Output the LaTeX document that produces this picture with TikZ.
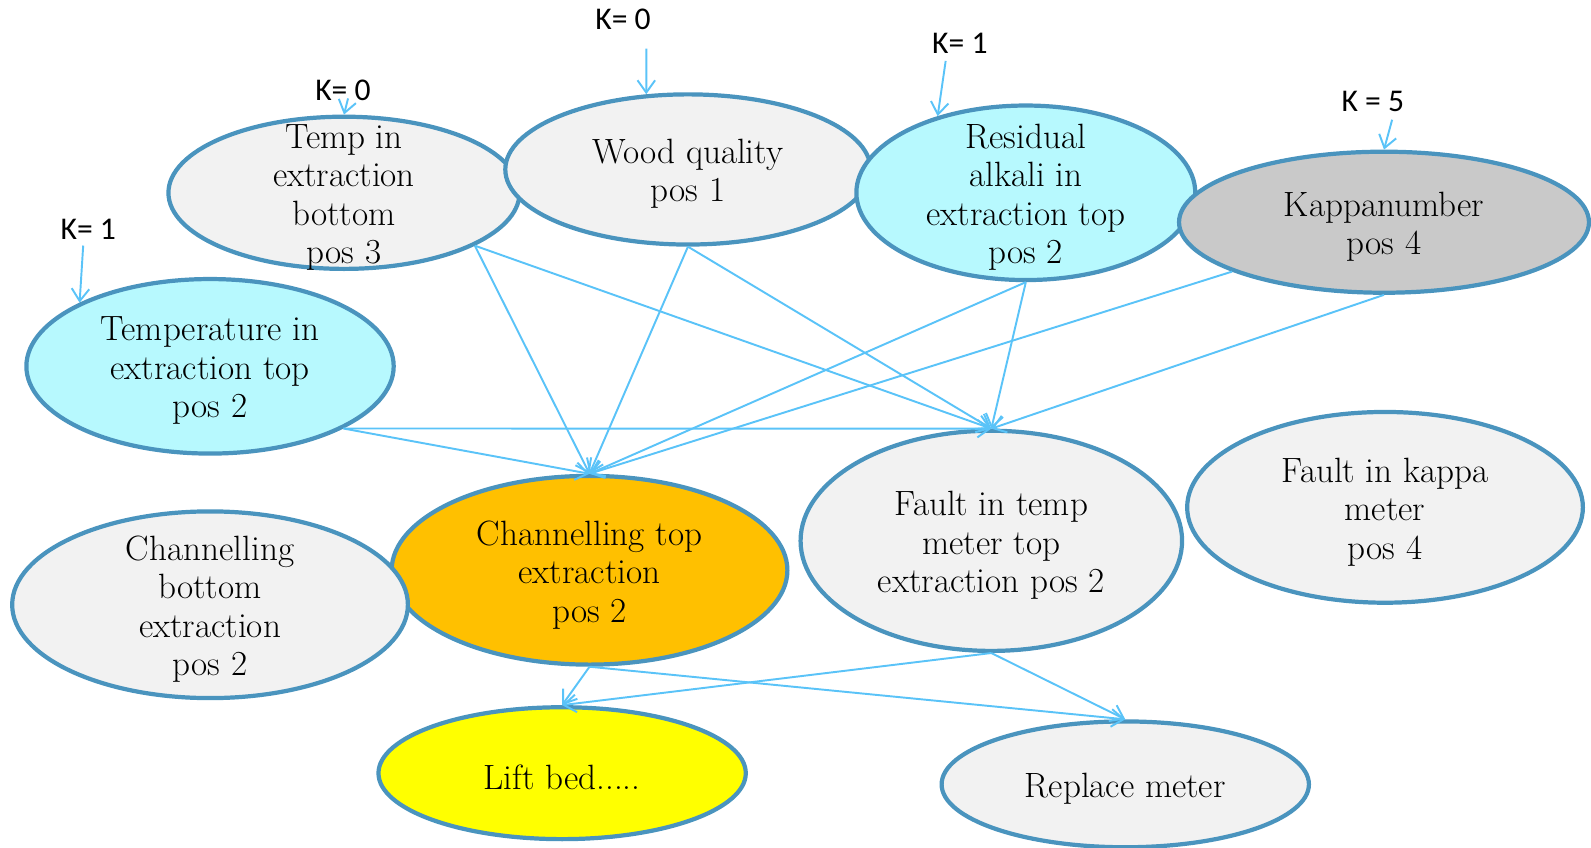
\documentclass[tikz,border=0pt]{standalone}
\usepackage{fontspec}
\newfontfamily\kfont{Carlito}
\usetikzlibrary{shapes.geometric,arrows.meta}
\definecolor{bord}{RGB}{74,148,190}
\definecolor{arrc}{RGB}{90,195,248}
\definecolor{lgray}{RGB}{242,242,242}
\definecolor{lcyan}{RGB}{183,249,254}
\definecolor{mgray}{RGB}{201,201,201}
\definecolor{orng}{RGB}{255,192,0}
\definecolor{yell}{RGB}{255,255,0}
\tikzset{
  el/.style n args={3}{ellipse, draw=bord, line width=2.4pt, minimum width=#1*0.02029cm,
    minimum height=#2*0.02029cm, inner sep=0pt,
    label={[align=center, inner sep=0pt, yshift=-0.09cm, font=\fontsize{20}{21.9}\selectfont]center:#3}},
  klab/.style={font=\kfont\fontsize{18}{20}\selectfont, inner sep=0pt},
  arr/.style={draw=arrc, line width=1.1pt, -{Straight Barb[length=7pt,width=10pt,line width=1.1pt]}}
}
\begin{document}
\begin{tikzpicture}[x=0.02029cm, y=-0.02029cm]
\useasboundingbox (0,0) rectangle (1568,835);
% ellipses
\node[el={346}{150}{Temp in\\extraction\\bottom\\pos 3}, fill=lgray] (tb) at (339,190) {};
\node[el={360}{148}{Wood quality\\pos 1}, fill=lgray] (wq) at (678,167) {};
\node[el={334}{172}{Residual\\alkali in\\extraction top\\pos 2}, fill=lcyan] (ra) at (1011,190) {};
\node[el={404}{139}{Kappanumber\\pos 4}, fill=mgray] (kp) at (1364,219) {};
\node[el={362}{172}{Temperature in\\extraction top\\pos 2}, fill=lcyan] (tt) at (207,361) {};
\node[el={390}{186}{Channelling top\\extraction\\pos 2}, fill=orng] (ct) at (581,562) {};
\node[el={390}{184}{Channelling\\bottom\\extraction\\pos 2}, fill=lgray] (cb) at (207,596) {};
\node[el={376}{217}{Fault in temp\\meter top\\extraction pos 2}, fill=lgray] (ft) at (977,533) {};
\node[el={390}{188}{Fault in kappa\\meter\\pos 4}, fill=lgray] (fk) at (1365,500) {};
\node[el={362}{130}{Lift bed.....}, fill=yell] (lb) at (554,762) {};
\node[el={362}{124}{Replace meter}, fill=lgray] (rm) at (1109,773) {};
% K labels
\node[klab] (k1) at (338,89) {K= 0};
\node[klab] (k2) at (614,19) {K= 0};
\node[klab] (k3) at (946,43) {K= 1};
\node[klab] (k4) at (1353,100) {K = 5};
\node[klab] (k5) at (87,226) {K= 1};
\coordinate (k1s) at (343,97);
\coordinate (k2s) at (637,48);
\coordinate (k3s) at (932,60);
\coordinate (k4s) at (1372,118);
\coordinate (k5s) at (82,242);
\draw[arr] (k1s) -- (tb.north);
\draw[arr] (k2s) -- (wq.119);
\draw[arr] (k3s) -- (ra.139);
\draw[arr] (k4s) -- (kp.north);
\draw[arr] (k5s) -- (tt.154.5);
% edges to channelling top
\draw[arr] (tb.-22.8) -- (ct.north);
\draw[arr] (wq.south) -- (ct.north);
\draw[arr] (ra.south) -- (ct.north);
\draw[arr] (kp.198.7) -- (ct.north);
\draw[arr] (tt.-25.1) -- (ct.north);
% edges to fault temp
\draw[arr] (tb.-22.8) -- (ft.north);
\draw[arr] (wq.south) -- (ft.north);
\draw[arr] (ra.south) -- (ft.north);
\draw[arr] (kp.south) -- (ft.north);
\draw[arr] (tt.-25.1) -- (ft.north);
% bottom
\draw[arr] (ct.south) -- (lb.north);
\draw[arr] (ct.south) -- (rm.north);
\draw[arr] (ft.south) -- (lb.north);
\draw[arr] (ft.south) -- (rm.north);
\end{tikzpicture}
\end{document}
